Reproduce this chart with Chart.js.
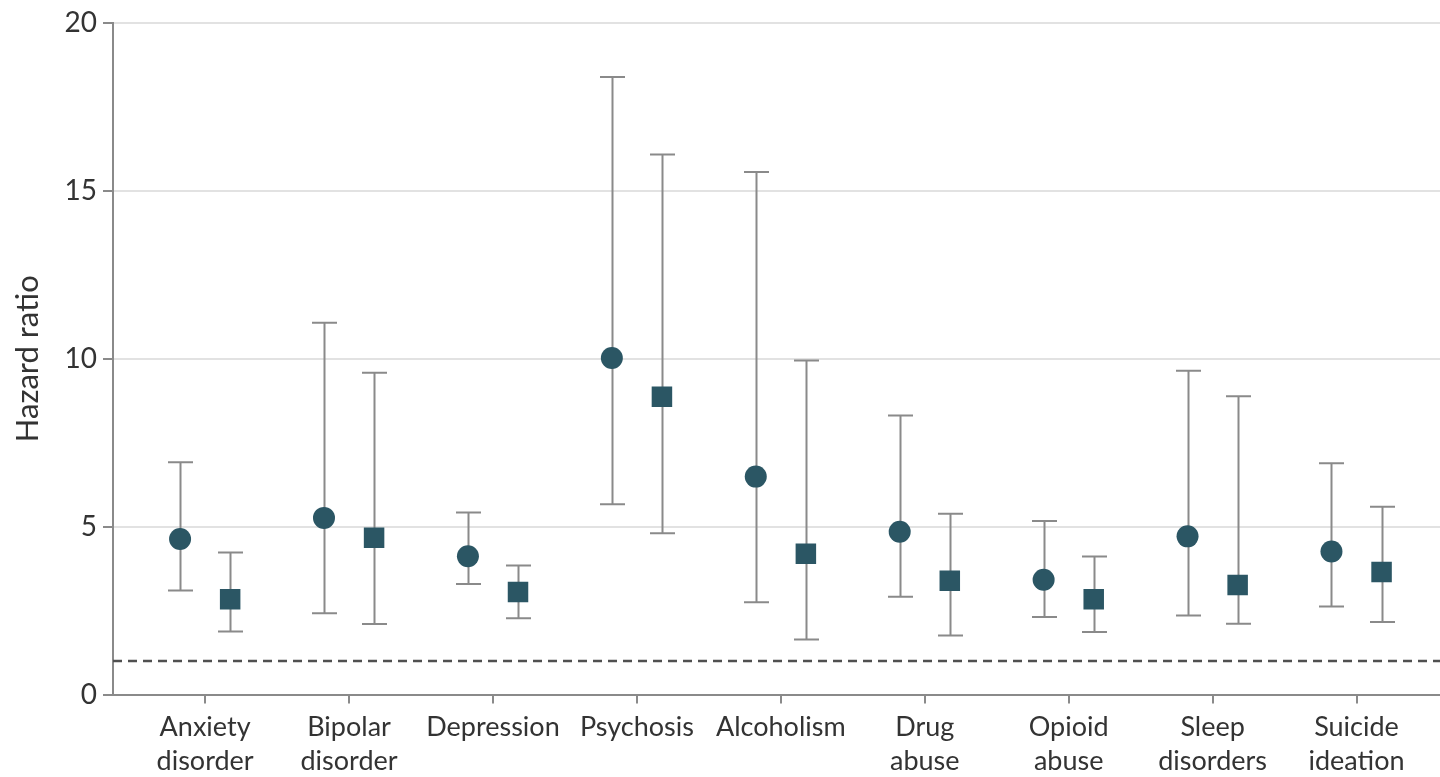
<!DOCTYPE html>
<html>
<head>
<meta charset="utf-8">
<title>Hazard ratio</title>
<script src="https://cdn.jsdelivr.net/npm/chart.js@4.4.1/dist/chart.umd.min.js"></script>
<style>
    html, body { margin: 0; padding: 0; background: #fff; }
    #wrap { width: 1440px; height: 777px; }
</style>
</head>
<body>
<div id="wrap"><canvas id="hrChart" width="1440" height="777"></canvas></div>
<script>
const categories = [
    ['Anxiety', 'disorder'], ['Bipolar', 'disorder'], ['Depression'], ['Psychosis'],
    ['Alcoholism'], ['Drug', 'abuse'], ['Opioid', 'abuse'], ['Sleep', 'disorders'], ['Suicide', 'ideation']
];
const yTicks = [0, 5, 10, 15, 20];

// circles
const hrA = [4.63, 5.26, 4.12, 10.02, 6.49, 4.85, 3.42, 4.71, 4.26];
const loA = [3.10, 2.42, 3.29, 5.67, 2.75, 2.91, 2.31, 2.35, 2.62];
const hiA = [6.92, 11.07, 5.42, 18.39, 15.56, 8.31, 5.17, 9.64, 6.89];

// squares
const hrB = [2.84, 4.67, 3.05, 8.87, 4.19, 3.39, 2.84, 3.26, 3.65];
const loB = [1.88, 2.10, 2.27, 4.80, 1.64, 1.76, 1.86, 2.11, 2.16];
const hiB = [4.23, 9.58, 3.84, 16.08, 9.95, 5.38, 4.11, 8.88, 5.59];

const refLine = 1;
const pairOffset = 0.174;
const xMin = -0.64, xMax = 8.58;

const markerColor = '#2b5664';
const barColor = '#8a8a8a';
const fontFamily = 'Lato, "Open Sans", sans-serif';

const ptsA = hrA.map((v, i) => ({ x: i - pairOffset, y: v }));
const ptsB = hrB.map((v, i) => ({ x: i + pairOffset, y: v }));

// vertical CI whiskers with caps, drawn under the markers
const errorBars = {
    id: 'errorBars',
    beforeDatasetsDraw(chart) {
        const { ctx, scales: { x, y } } = chart;
        const cap = 12.5;
        ctx.save();
        ctx.strokeStyle = barColor;
        ctx.lineWidth = 2;
        const draw = (xv, lo, hi) => {
            const px = Math.round(x.getPixelForValue(xv)) + 0.5;
            const pLo = y.getPixelForValue(lo);
            const pHi = y.getPixelForValue(hi);
            ctx.beginPath();
            ctx.moveTo(px, pLo);
            ctx.lineTo(px, pHi);
            ctx.moveTo(px - cap, pLo);
            ctx.lineTo(px + cap, pLo);
            ctx.moveTo(px - cap, pHi);
            ctx.lineTo(px + cap, pHi);
            ctx.stroke();
        };
        categories.forEach((c, i) => {
            draw(i - pairOffset, loA[i], hiA[i]);
            draw(i + pairOffset, loB[i], hiB[i]);
        });
        ctx.restore();
    }
};

const ctx = document.getElementById('hrChart').getContext('2d');
new Chart(ctx, {
    type: 'scatter',
    data: {
        datasets: [
            {
                type: 'line',
                data: [{ x: xMin, y: refLine }, { x: xMax, y: refLine }],
                borderColor: '#505050',
                borderWidth: 2.5,
                borderDash: [9, 6],
                pointRadius: 0,
                order: 3
            },
            {
                data: ptsA,
                pointStyle: 'circle',
                pointRadius: 11,
                backgroundColor: markerColor,
                borderColor: markerColor,
                borderWidth: 0,
                order: 1
            },
            {
                data: ptsB,
                pointStyle: 'rect',
                pointRadius: 14.5,
                backgroundColor: markerColor,
                borderColor: markerColor,
                borderWidth: 0,
                order: 1
            }
        ]
    },
    options: {
        responsive: false,
        animation: false,
        layout: { autoPadding: false, padding: { top: 23, right: 0, left: 0, bottom: 0 } },
        plugins: {
            legend: { display: false },
            tooltip: { enabled: false }
        },
        scales: {
            x: {
                type: 'linear',
                min: xMin,
                max: xMax,
                afterBuildTicks(scale) {
                    scale.ticks = categories.map((c, i) => ({ value: i }));
                },
                afterFit(scale) {
                    scale.height = 82.5;
                    scale.paddingLeft = 0;
                    scale.paddingRight = 0;
                },
                border: { display: false },
                grid: {
                    drawOnChartArea: false,
                    tickLength: 9,
                    tickColor: barColor,
                    lineWidth: 2
                },
                ticks: {
                    autoSkip: false,
                    maxRotation: 0,
                    padding: 7,
                    color: '#333',
                    font: { family: fontFamily, size: 27, lineHeight: 1.26 },
                    callback: (v) => categories[v]
                }
            },
            y: {
                min: 0,
                max: 20,
                afterBuildTicks(scale) {
                    scale.ticks = yTicks.map(v => ({ value: v }));
                },
                afterFit(scale) { scale.width = 113; },
                border: { color: barColor, width: 2 },
                grid: {
                    color: (c) => c.tick && c.tick.value === 0 ? barColor : '#e2e2e2',
                    lineWidth: 2,
                    tickLength: 10,
                    tickColor: barColor
                },
                ticks: {
                    padding: 6,
                    color: '#333',
                    font: { family: fontFamily, size: 28 }
                },
                title: {
                    display: true,
                    text: 'Hazard ratio',
                    color: '#333',
                    padding: { top: 9, bottom: 4 },
                    font: { family: fontFamily, size: 31 }
                }
            }
        }
    },
    plugins: [errorBars]
});
</script>
</body>
</html>
